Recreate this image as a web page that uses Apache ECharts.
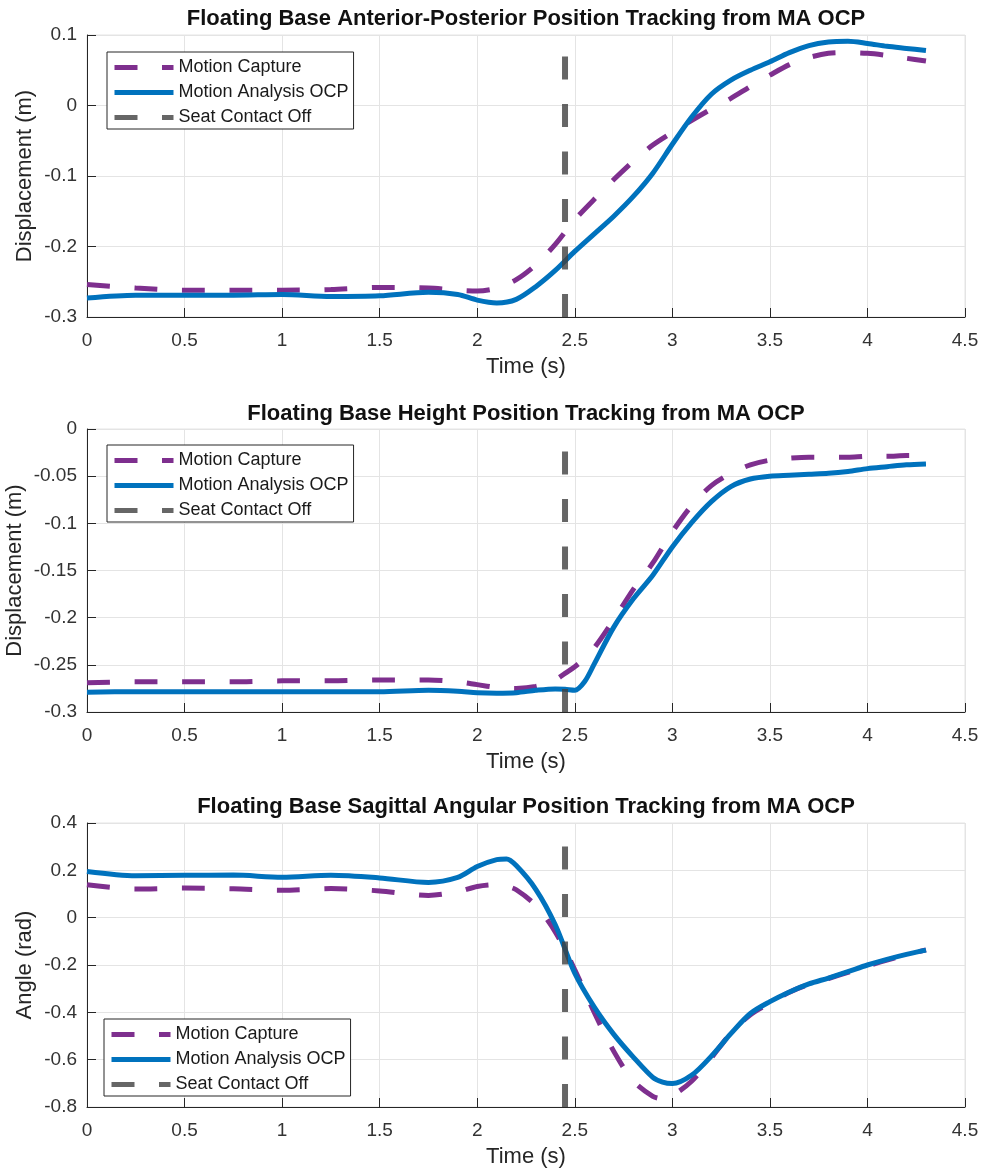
<!DOCTYPE html>
<html>
<head>
<meta charset="utf-8">
<script src="https://cdn.jsdelivr.net/npm/echarts/dist/echarts.min.js"></script>
<style>
  html, body { margin: 0; padding: 0; background: #fff; }
  #chart { width: 984px; height: 1174px; }
</style>
</head>
<body>
<div id="chart"></div>
<script>
// ---- Anterior-posterior displacement (m) ----
const timeAP = [0, 0.25, 0.5, 0.75, 1.0, 1.25, 1.5, 1.75, 1.9, 2.0, 2.1, 2.2, 2.3, 2.4, 2.5, 2.6, 2.7, 2.8, 2.9, 3.0, 3.1, 3.2, 3.3, 3.4, 3.5, 3.6, 3.7, 3.8, 3.9, 4.0, 4.1, 4.2, 4.3];
const apMocap = [-0.254, -0.259, -0.262, -0.262, -0.262, -0.261, -0.258, -0.259, -0.262, -0.263, -0.259, -0.247, -0.226, -0.197, -0.162, -0.133, -0.105, -0.079, -0.056, -0.038, -0.021, -0.005, 0.010, 0.027, 0.043, 0.058, 0.068, 0.074, 0.075, 0.074, 0.071, 0.067, 0.063];
const apOcp = [-0.273, -0.269, -0.269, -0.269, -0.268, -0.271, -0.270, -0.265, -0.268, -0.276, -0.280, -0.275, -0.257, -0.234, -0.207, -0.182, -0.157, -0.129, -0.096, -0.055, -0.016, 0.016, 0.036, 0.050, 0.062, 0.075, 0.085, 0.090, 0.091, 0.088, 0.084, 0.081, 0.078];

// ---- Height displacement (m) ----
const timeH = [0, 0.25, 0.5, 0.75, 1.0, 1.25, 1.5, 1.75, 1.9, 2.0, 2.1, 2.2, 2.3, 2.4, 2.45, 2.5, 2.55, 2.6, 2.7, 2.8, 2.9, 3.0, 3.1, 3.2, 3.3, 3.4, 3.5, 3.6, 3.7, 3.8, 3.9, 4.0, 4.1, 4.2, 4.3];
const hMocap = [-0.269, -0.268, -0.268, -0.268, -0.267, -0.267, -0.266, -0.266, -0.268, -0.271, -0.274, -0.275, -0.273, -0.266, -0.259, -0.252, -0.243, -0.232, -0.202, -0.170, -0.142, -0.109, -0.081, -0.060, -0.047, -0.038, -0.033, -0.031, -0.030, -0.030, -0.030, -0.029, -0.029, -0.028, -0.028];
const hOcp = [-0.279, -0.2785, -0.2785, -0.2785, -0.2785, -0.2785, -0.2785, -0.277, -0.278, -0.2795, -0.280, -0.2795, -0.277, -0.2755, -0.276, -0.277, -0.268, -0.249, -0.210, -0.180, -0.155, -0.125, -0.099, -0.077, -0.061, -0.053, -0.050, -0.049, -0.048, -0.047, -0.045, -0.042, -0.040, -0.038, -0.037];

// ---- Sagittal angle (rad) ----
const timeAng = [0, 0.25, 0.5, 0.75, 1.0, 1.25, 1.5, 1.75, 1.9, 2.0, 2.1, 2.15, 2.2, 2.3, 2.4, 2.5, 2.6, 2.7, 2.8, 2.9, 2.95, 3.0, 3.1, 3.2, 3.3, 3.4, 3.5, 3.6, 3.7, 3.8, 3.9, 4.0, 4.1, 4.2, 4.3];
const angMocap = [0.139, 0.121, 0.125, 0.122, 0.116, 0.123, 0.113, 0.094, 0.110, 0.132, 0.140, 0.133, 0.118, 0.052, -0.060, -0.220, -0.400, -0.565, -0.690, -0.755, -0.765, -0.752, -0.690, -0.592, -0.488, -0.410, -0.360, -0.315, -0.282, -0.257, -0.231, -0.204, -0.179, -0.157, -0.136];
const angOcp = [0.195, 0.177, 0.179, 0.180, 0.171, 0.179, 0.168, 0.149, 0.170, 0.216, 0.245, 0.248, 0.220, 0.120, -0.030, -0.235, -0.378, -0.493, -0.589, -0.675, -0.695, -0.701, -0.665, -0.585, -0.490, -0.405, -0.355, -0.314, -0.280, -0.255, -0.228, -0.200, -0.176, -0.155, -0.137];

// ---- Seat contact off event ----
const seatOffTime = 2.45;
const seatOffSpanAP = [-0.3, 0.072];
const seatOffSpanH = [-0.3, -0.023];
const seatOffSpanAng = [-0.8, 0.315];

// ---- Axis ranges [min, max, step] ----
const timeRange = [0, 4.5, 0.5];
const apRange = [-0.3, 0.1, 0.1];
const hRange = [-0.3, 0, 0.05];
const angRange = [-0.8, 0.4, 0.2];

const titles = [
  'Floating Base Anterior-Posterior Position Tracking from MA OCP',
  'Floating Base Height Position Tracking from MA OCP',
  'Floating Base Sagittal Angular Position Tracking from MA OCP'
];
const yNames = ['Displacement (m)', 'Displacement (m)', 'Angle (rad)'];
const legendNames = ['Motion Capture', 'Motion Analysis OCP', 'Seat Contact Off'];

const FONT = "'Liberation Sans', Arial, Helvetica, sans-serif";
const INK = '#262626';
const PURPLE = '#7E2F8E';
const BLUE = '#0072BD';
const GRAY = 'rgba(64,64,64,0.8)';
const DASH = [23, 24.5];

const panels = [
  { t: timeAP, mocap: apMocap, ocp: apOcp, span: seatOffSpanAP, range: apRange,
    grid: { left: 87, top: 35, width: 878, height: 282 }, titleTop: 8, yGap: 51, legend: { left: 107, top: 52 } },
  { t: timeH, mocap: hMocap, ocp: hOcp, span: seatOffSpanH, range: hRange,
    grid: { left: 87, top: 429, width: 878, height: 283 }, titleTop: 403, yGap: 61, legend: { left: 107, top: 445 } },
  { t: timeAng, mocap: angMocap, ocp: angOcp, span: seatOffSpanAng, range: angRange,
    grid: { left: 87, top: 823, width: 878, height: 284 }, titleTop: 796, yGap: 51, legend: { left: 104, top: 1019 } }
];

const zip = (xs, ys) => xs.map((x, i) => [x, ys[i]]);

const option = {
  animation: false,
  backgroundColor: '#fff',
  title: [], grid: [], xAxis: [], yAxis: [], legend: [], series: []
};

panels.forEach((p, i) => {
  const plotCenter = p.grid.left + p.grid.width / 2;
  option.title.push({
    text: titles[i], left: plotCenter, top: p.titleTop, textAlign: 'center', padding: 0,
    textStyle: { fontFamily: FONT, fontSize: 22, fontWeight: 'bold', color: '#111' }
  });
  option.grid.push(Object.assign({
    show: true, borderColor: '#e4e4e4', borderWidth: 1, backgroundColor: 'transparent',
    containLabel: false, outerBoundsMode: 'none'
  }, p.grid));
  option.xAxis.push({
    type: 'value', gridIndex: i, min: timeRange[0], max: timeRange[1], interval: timeRange[2],
    name: 'Time (s)', nameLocation: 'middle', nameGap: 39, nameMoveOverlap: false,
    nameTextStyle: { fontFamily: FONT, fontSize: 22, color: INK },
    axisLine: { show: true, onZero: false, lineStyle: { color: INK, width: 1 } },
    axisTick: { show: true, inside: true, length: 9, lineStyle: { color: INK, width: 1 } },
    axisLabel: { fontFamily: FONT, fontSize: 19, color: '#333', margin: 14 },
    splitLine: { show: true, lineStyle: { color: '#e4e4e4', width: 1 } }
  });
  option.yAxis.push({
    type: 'value', gridIndex: i, min: p.range[0], max: p.range[1], interval: p.range[2],
    name: yNames[i], nameLocation: 'middle', nameGap: p.yGap, nameRotate: 90, nameMoveOverlap: false,
    nameTextStyle: { fontFamily: FONT, fontSize: 22, color: INK },
    axisLine: { show: true, onZero: false, lineStyle: { color: INK, width: 1 } },
    axisTick: { show: true, inside: true, length: 9, lineStyle: { color: INK, width: 1 } },
    axisLabel: { fontFamily: FONT, fontSize: 19, color: '#333', margin: 10 },
    splitLine: { show: true, lineStyle: { color: '#e4e4e4', width: 1 } }
  });
  option.legend.push({
    left: p.legend.left, top: p.legend.top, orient: 'vertical',
    data: legendNames, selectedMode: false,
    itemWidth: 59, itemHeight: 14, itemGap: 6,
    padding: [6, 5, 2, 5],
    borderColor: INK, borderWidth: 1, borderRadius: 0, backgroundColor: '#fff',
    textStyle: { fontFamily: FONT, fontSize: 18, color: '#1a1a1a', lineHeight: 19 },
    itemStyle: { opacity: 0 },
    lineStyle: { width: 5 }
  });
  const common = {
    type: 'line', xAxisIndex: i, yAxisIndex: i, symbol: 'none', showSymbol: false,
    smooth: 0.3, silent: true
  };
  option.series.push(Object.assign({}, common, {
    name: legendNames[0], data: zip(p.t, p.mocap), z: 2,
    lineStyle: { color: PURPLE, width: 5, type: DASH, cap: 'butt' }, itemStyle: { color: PURPLE }
  }));
  option.series.push(Object.assign({}, common, {
    name: legendNames[1], data: zip(p.t, p.ocp), z: 3,
    lineStyle: { color: BLUE, width: 5, type: 'solid' }, itemStyle: { color: BLUE }
  }));
  option.series.push(Object.assign({}, common, {
    name: legendNames[2], smooth: false, z: 4,
    data: p.span.map(v => [seatOffTime, v]),
    lineStyle: { color: GRAY, width: 6, type: DASH, cap: 'butt' }, itemStyle: { color: GRAY }
  }));
});

const chart = echarts.init(document.getElementById('chart'), null, { renderer: 'canvas' });
chart.setOption(option);
</script>
</body>
</html>
